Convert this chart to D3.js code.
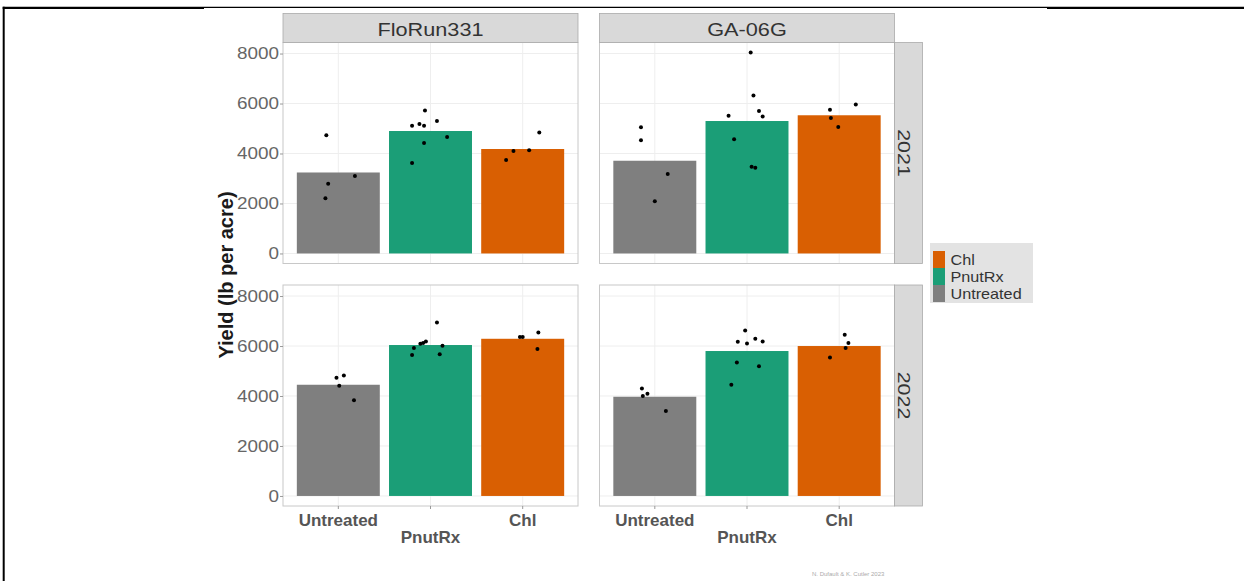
<!DOCTYPE html>
<html>
<head>
<meta charset="utf-8">
<script src="https://cdn.jsdelivr.net/npm/d3@7"></script>
<style>
  body { margin: 0; background: #fff; }
  text { font-family: "Liberation Sans", Arial, sans-serif; }
</style>
</head>
<body>
<div id="chart"></div>
<script>
const treatments = ["Untreated", "PnutRx", "Chl"];
const cultivars = ["FloRun331", "GA-06G"];
const years = ["2021", "2022"];
const yTicks = [0, 2000, 4000, 6000, 8000];
const legendOrder = ["Chl", "PnutRx", "Untreated"];

// bar heights (mean yield): cultivar, year, treatment, lb per acre
const barMeans = [
  ["FloRun331", "2021", "Untreated", 3240],
  ["FloRun331", "2021", "PnutRx", 4900],
  ["FloRun331", "2021", "Chl", 4180],
  ["GA-06G", "2021", "Untreated", 3710],
  ["GA-06G", "2021", "PnutRx", 5300],
  ["GA-06G", "2021", "Chl", 5530],
  ["FloRun331", "2022", "Untreated", 4450],
  ["FloRun331", "2022", "PnutRx", 6040],
  ["FloRun331", "2022", "Chl", 6290],
  ["GA-06G", "2022", "Untreated", 3970],
  ["GA-06G", "2022", "PnutRx", 5800],
  ["GA-06G", "2022", "Chl", 6000]
];

// single plots: cultivar, year, treatment, lb per acre, jitter (share of a category step)
const plots = [
  ["FloRun331", "2021", "Untreated", 4730, -0.13],
  ["FloRun331", "2021", "Untreated", 2790, -0.11],
  ["FloRun331", "2021", "Untreated", 2210, -0.14],
  ["FloRun331", "2021", "Untreated", 3100, 0.18],
  ["FloRun331", "2021", "PnutRx", 5720, -0.06],
  ["FloRun331", "2021", "PnutRx", 5110, -0.2],
  ["FloRun331", "2021", "PnutRx", 5180, -0.12],
  ["FloRun331", "2021", "PnutRx", 5110, -0.07],
  ["FloRun331", "2021", "PnutRx", 5300, 0.07],
  ["FloRun331", "2021", "PnutRx", 4420, -0.07],
  ["FloRun331", "2021", "PnutRx", 4660, 0.18],
  ["FloRun331", "2021", "PnutRx", 3620, -0.2],
  ["FloRun331", "2021", "Chl", 4840, 0.18],
  ["FloRun331", "2021", "Chl", 3740, -0.18],
  ["FloRun331", "2021", "Chl", 4100, -0.1],
  ["FloRun331", "2021", "Chl", 4130, 0.07],
  ["GA-06G", "2021", "Untreated", 5050, -0.15],
  ["GA-06G", "2021", "Untreated", 4530, -0.15],
  ["GA-06G", "2021", "Untreated", 3180, 0.14],
  ["GA-06G", "2021", "Untreated", 2090, 0.0],
  ["GA-06G", "2021", "PnutRx", 8040, 0.04],
  ["GA-06G", "2021", "PnutRx", 6320, 0.07],
  ["GA-06G", "2021", "PnutRx", 5510, -0.2],
  ["GA-06G", "2021", "PnutRx", 5700, 0.13],
  ["GA-06G", "2021", "PnutRx", 5480, 0.17],
  ["GA-06G", "2021", "PnutRx", 4570, -0.14],
  ["GA-06G", "2021", "PnutRx", 3470, 0.05],
  ["GA-06G", "2021", "PnutRx", 3430, 0.09],
  ["GA-06G", "2021", "Chl", 5750, -0.1],
  ["GA-06G", "2021", "Chl", 5960, 0.18],
  ["GA-06G", "2021", "Chl", 5420, -0.09],
  ["GA-06G", "2021", "Chl", 5060, -0.01],
  ["FloRun331", "2022", "Untreated", 4730, -0.02],
  ["FloRun331", "2022", "Untreated", 4820, 0.06],
  ["FloRun331", "2022", "Untreated", 4410, 0.01],
  ["FloRun331", "2022", "Untreated", 3830, 0.17],
  ["FloRun331", "2022", "PnutRx", 6940, 0.07],
  ["FloRun331", "2022", "PnutRx", 5920, -0.18],
  ["FloRun331", "2022", "PnutRx", 6090, -0.11],
  ["FloRun331", "2022", "PnutRx", 6120, -0.08],
  ["FloRun331", "2022", "PnutRx", 6180, -0.05],
  ["FloRun331", "2022", "PnutRx", 6010, 0.13],
  ["FloRun331", "2022", "PnutRx", 5640, -0.2],
  ["FloRun331", "2022", "PnutRx", 5670, 0.1],
  ["FloRun331", "2022", "Chl", 6360, -0.03],
  ["FloRun331", "2022", "Chl", 6360, 0.0],
  ["FloRun331", "2022", "Chl", 6540, 0.17],
  ["FloRun331", "2022", "Chl", 5880, 0.16],
  ["GA-06G", "2022", "Untreated", 4300, -0.14],
  ["GA-06G", "2022", "Untreated", 4000, -0.13],
  ["GA-06G", "2022", "Untreated", 4090, -0.08],
  ["GA-06G", "2022", "Untreated", 3400, 0.12],
  ["GA-06G", "2022", "PnutRx", 6620, -0.02],
  ["GA-06G", "2022", "PnutRx", 6170, -0.1],
  ["GA-06G", "2022", "PnutRx", 6100, 0.0],
  ["GA-06G", "2022", "PnutRx", 6290, 0.09],
  ["GA-06G", "2022", "PnutRx", 6180, 0.17],
  ["GA-06G", "2022", "PnutRx", 5340, -0.11],
  ["GA-06G", "2022", "PnutRx", 5190, 0.13],
  ["GA-06G", "2022", "PnutRx", 4450, -0.17],
  ["GA-06G", "2022", "Chl", 6450, 0.06],
  ["GA-06G", "2022", "Chl", 6120, 0.1],
  ["GA-06G", "2022", "Chl", 5920, 0.07],
  ["GA-06G", "2022", "Chl", 5540, -0.1]
];

const fills = { Untreated: "#7f7f7f", PnutRx: "#1b9e77", Chl: "#d95f02" };

const width = 1244, height = 581;
const colX = [283, 599.5], rowY = [42.5, 285];
const pw = 295, ph = 221;
const stripH = 29, stripW = 28;

const svg = d3.select("#chart")
  .append("svg")
  .attr("width", width)
  .attr("height", height)
  .style("background", "#fff");

// page frame lines
svg.append("line").attr("x1", 3.7).attr("x2", 3.7).attr("y1", 6.7).attr("y2", height)
  .attr("stroke", "#000").attr("stroke-width", 2);
svg.append("line").attr("x1", 2.7).attr("x2", 204).attr("y1", 7.8).attr("y2", 7.8)
  .attr("stroke", "#000").attr("stroke-width", 2.2);
svg.append("line").attr("x1", 204).attr("x2", 1047).attr("y1", 7.4).attr("y2", 7.4)
  .attr("stroke", "#000").attr("stroke-width", 1.3);
svg.append("line").attr("x1", 1047).attr("x2", width).attr("y1", 7.8).attr("y2", 7.8)
  .attr("stroke", "#000").attr("stroke-width", 2.2);

const x = d3.scaleBand()
  .domain(treatments)
  .range([0, pw])
  .paddingInner(0.1)
  .paddingOuter(0.15);

const yMax = d3.max(plots, d => d[3]);
const y = d3.scaleLinear()
  .domain([-0.05 * yMax, 1.05 * yMax])
  .range([ph, 0]);

cultivars.forEach((cv, ci) => {
  years.forEach((yr, ri) => {
    const g = svg.append("g")
      .attr("transform", `translate(${colX[ci]},${rowY[ri]})`);

    g.append("rect").attr("width", pw).attr("height", ph).attr("fill", "#fff");

    // grid
    g.selectAll("line.hgrid")
      .data(yTicks)
      .join("line")
      .attr("class", "hgrid")
      .attr("x1", 0).attr("x2", pw)
      .attr("y1", d => y(d)).attr("y2", d => y(d))
      .attr("stroke", "#eeeeee");
    g.selectAll("line.vgrid")
      .data(treatments)
      .join("line")
      .attr("class", "vgrid")
      .attr("x1", d => x(d) + x.bandwidth() / 2).attr("x2", d => x(d) + x.bandwidth() / 2)
      .attr("y1", 0).attr("y2", ph)
      .attr("stroke", "#eeeeee");

    g.selectAll("rect.bar")
      .data(barMeans.filter(d => d[0] === cv && d[1] === yr))
      .join("rect")
      .attr("class", "bar")
      .attr("x", d => x(d[2]))
      .attr("width", x.bandwidth())
      .attr("y", d => y(d[3]))
      .attr("height", d => y(0) - y(d[3]))
      .attr("fill", d => fills[d[2]]);

    g.selectAll("circle")
      .data(plots.filter(d => d[0] === cv && d[1] === yr))
      .join("circle")
      .attr("cx", d => x(d[2]) + x.bandwidth() / 2 + d[4] * x.step())
      .attr("cy", d => y(d[3]))
      .attr("r", 2)
      .attr("fill", "#000");

    g.append("rect").attr("width", pw).attr("height", ph)
      .attr("fill", "none").attr("stroke", "#c8c8c8").attr("stroke-width", 1);

    if (ri === 0) {
      g.append("rect")
        .attr("y", -stripH).attr("width", pw).attr("height", stripH)
        .attr("fill", "#d9d9d9").attr("stroke", "#aaaaaa").attr("stroke-width", 0.8);
      g.append("text")
        .attr("transform", `translate(${pw / 2},-6.5) scale(1.24,1)`)
        .attr("text-anchor", "middle")
        .attr("font-size", "17.5px")
        .attr("fill", "#333")
        .text(cv);
    }

    if (ci === 1) {
      g.append("rect")
        .attr("x", pw).attr("width", stripW).attr("height", ph)
        .attr("fill", "#d9d9d9").attr("stroke", "#aaaaaa").attr("stroke-width", 0.8);
      g.append("text")
        .attr("transform", `translate(${pw + 3.5},${ph / 2}) rotate(90) scale(1.26,1)`)
        .attr("text-anchor", "middle")
        .attr("font-size", "17px")
        .attr("fill", "#333")
        .text(yr);
    }

    if (ci === 0) {
      const ya = g.append("g")
        .call(d3.axisLeft(y).tickValues(yTicks).tickSize(3).tickPadding(1).tickFormat(d3.format("d")));
      ya.select(".domain").remove();
      ya.selectAll(".tick line").attr("stroke", "#999");
      ya.selectAll(".tick text")
        .attr("x", -4 / 1.18)
        .attr("transform", "scale(1.18,1)")
        .attr("font-size", "16px")
        .attr("font-family", "Liberation Sans, Arial, sans-serif")
        .attr("fill", "#666");
    }

    if (ri === 1) {
      const xa = g.append("g")
        .attr("transform", `translate(0,${ph})`)
        .call(d3.axisBottom(x).tickSize(3));
      xa.select(".domain").remove();
      xa.selectAll(".tick line").attr("stroke", "#999");
      xa.selectAll(".tick text")
        .attr("y", (d, i) => i % 2 ? 36.5 : 19.5)
        .attr("dy", 0)
        .attr("font-size", "17px")
        .attr("font-weight", "bold")
        .attr("font-family", "Liberation Sans, Arial, sans-serif")
        .attr("fill", "#555");
    }
  });
});

// y title
svg.append("text")
  .attr("transform", "translate(233,275) rotate(-90)")
  .attr("text-anchor", "middle")
  .attr("font-size", "20px")
  .attr("font-weight", "bold")
  .attr("fill", "#1a1a1a")
  .text("Yield (lb per acre)");

// legend
const lg = svg.append("g").attr("transform", "translate(930,243)");
lg.append("rect").attr("width", 103).attr("height", 60).attr("fill", "#e3e3e3");
lg.selectAll("rect.key")
  .data(legendOrder)
  .join("rect")
  .attr("class", "key")
  .attr("x", 3).attr("y", (d, i) => 8 + i * 17)
  .attr("width", 12).attr("height", 17)
  .attr("fill", d => fills[d]);
lg.selectAll("text")
  .data(legendOrder)
  .join("text")
  .attr("transform", (d, i) => `translate(20.5,${8 + i * 17 + 8.5}) scale(1.08,1)`)
  .attr("dy", "0.36em")
  .attr("font-size", "15px")
  .attr("fill", "#333")
  .text(d => d);

// tiny caption
svg.append("text")
  .attr("x", 812).attr("y", 576)
  .attr("font-size", "6px")
  .attr("fill", "#aaa")
  .text("N. Dufault & K. Cutler 2023");
</script>
</body>
</html>
